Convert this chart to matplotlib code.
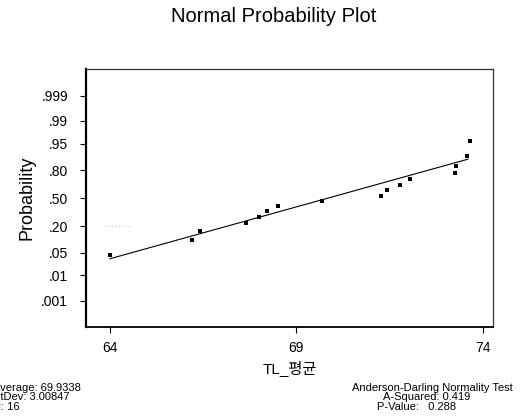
import matplotlib
matplotlib.use("Agg")
import matplotlib.pyplot as plt
from statistics import NormalDist

plt.rcParams['font.family'] = ['Liberation Sans', 'Noto Sans CJK KR', 'DejaVu Sans']

# data
tl_mean = [64.00, 66.20, 66.41, 67.65, 67.99, 68.20, 68.50, 69.68,
           71.27, 71.43, 71.77, 72.05, 73.26, 73.29, 73.58, 73.65]
prob = [0.043, 0.104, 0.165, 0.226, 0.287, 0.348, 0.409, 0.470,
        0.531, 0.592, 0.652, 0.713, 0.774, 0.835, 0.896, 0.957]
fit_x = [64.0, 73.60]
fit_p = [0.034, 0.880]
prob_ticks = [0.001, 0.01, 0.05, 0.20, 0.50, 0.80, 0.95, 0.99, 0.999]
prob_labels = ['.001', '.01', '.05', '.20', '.50', '.80', '.95', '.99', '.999']
x_ticks = [64, 69, 74]

stats_left = ["Average: 69.9338", "StDev: 3.00847", "N: 16"]
stats_right = ["Anderson-Darling Normality Test", "A-Squared: 0.419", "P-Value:   0.288"]

nd = NormalDist()
z = lambda ps: [nd.inv_cdf(p) for p in ps]

W, H = 521, 420
fig = plt.figure(figsize=(W / 100, H / 100), dpi=100)
ax = fig.add_axes([86 / W, 1 - 327 / H, (493 - 86) / W, (327 - 69) / H])

ax.plot(fit_x, z(fit_p), color='black', lw=0.8)
ax.plot(tl_mean, z(prob), 's', color='black', ms=3.4, mew=0)
# faint scan remnant near .20
ax.plot([63.87, 64.55], z([0.2, 0.2]), color='#c8c8c8', lw=0.8, ls=(0, (1, 2)))

ax.set_xlim(63.36, 74.27)
ax.set_ylim(-3.88, 3.89)
ax.set_xticks(x_ticks)
ax.set_xticklabels([str(v) for v in x_ticks])
ax.set_yticks(z(prob_ticks))
ax.set_yticklabels(prob_labels)
ax.tick_params(axis='y', direction='out', length=4, width=0.8, pad=9, labelsize=10)
ax.tick_params(axis='x', direction='out', length=4, width=0.8, pad=6, labelsize=10)

for side, lw in (('left', 1.6), ('bottom', 1.3), ('top', 0.9), ('right', 0.9)):
    ax.spines[side].set_linewidth(lw)
ax.spines['top'].set_color('#333333')
ax.spines['right'].set_color('#333333')

ax.set_ylabel('Probability', fontsize=13, labelpad=4)
ax.set_xlabel('TL_평균', fontsize=11, labelpad=4)

fig.text(274 / W, 1 - 17 / H, 'Normal Probability Plot', fontsize=14.5,
         ha='center', va='center')

# the left block runs past the left edge in the original too
for i, s in enumerate(stats_left):
    fig.text(-7 / W, 1 - (388 + 9.5 * i) / H, s, fontsize=8, ha='left', va='center')
right_x = [352, 383, 377]
for i, s in enumerate(stats_right):
    fig.text(right_x[i] / W, 1 - (388 + 9.5 * i) / H, s, fontsize=8, ha='left', va='center')

fig.savefig('out.png', dpi=100)
